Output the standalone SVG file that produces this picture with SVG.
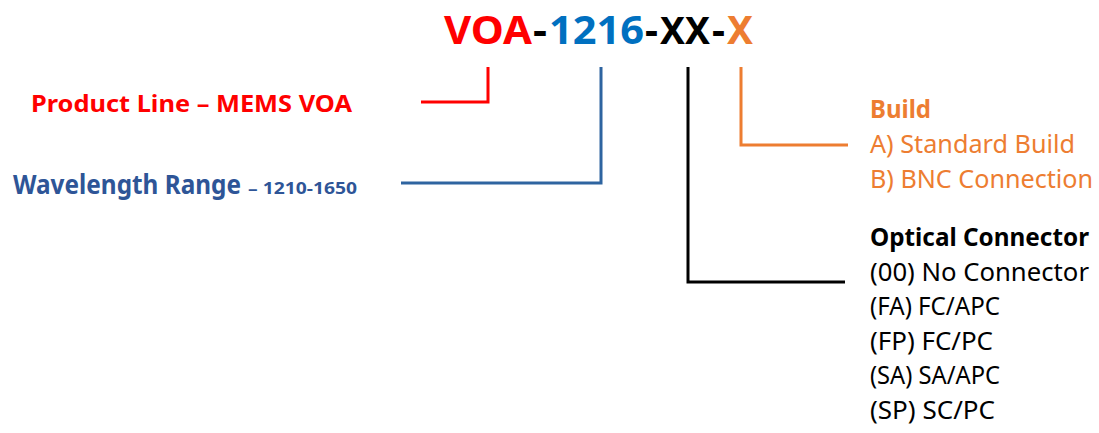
<svg xmlns="http://www.w3.org/2000/svg" width="1099" height="433" viewBox="0 0 1099 433">
<style>
text{font-family:"Noto Sans","Open Sans","Liberation Sans",sans-serif}
.b{font-weight:bold}
.t{font-size:40px;font-weight:bold}
.red{fill:#FF0000}
.blu{fill:#0070C0}
.nav{fill:#2E5597}
.org{fill:#ED7D31}
.blk{fill:#000000}
.ln{fill:none;stroke-width:3;stroke-linejoin:miter;stroke-linecap:butt}
</style>
<rect width="1099" height="433" fill="#FFFFFF"/>
<g id="title">
<text class="t red" x="444" y="44" textLength="88" lengthAdjust="spacingAndGlyphs">VOA</text>
<text class="t blk" x="533" y="44" textLength="14" lengthAdjust="spacingAndGlyphs">-</text>
<text class="t blu" x="549" y="44" textLength="95" lengthAdjust="spacingAndGlyphs">1216</text>
<text class="t blk" x="645" y="44" textLength="13" lengthAdjust="spacingAndGlyphs">-</text>
<text class="t blk" x="660" y="44" style="font-size:38px" textLength="50" lengthAdjust="spacingAndGlyphs">XX</text>
<text class="t blk" x="712" y="44" textLength="13" lengthAdjust="spacingAndGlyphs">-</text>
<text class="t org" x="727" y="44" textLength="26" lengthAdjust="spacingAndGlyphs">X</text>
</g>
<g id="product-line">
<text class="b red" x="31" y="112" font-size="24" textLength="321" lengthAdjust="spacingAndGlyphs">Product Line – MEMS VOA</text>
</g>
<g id="wavelength">
<text class="b nav" x="13" y="194" font-size="26" textLength="228" lengthAdjust="spacingAndGlyphs">Wavelength Range</text>
<text class="b nav" x="248" y="194" font-size="16" textLength="109" lengthAdjust="spacingAndGlyphs">– 1210-1650</text>
</g>
<g id="build">
<text class="b org" x="870" y="118" font-size="25" textLength="61" lengthAdjust="spacingAndGlyphs">Build</text>
<text class="org" x="870" y="153" font-size="25" textLength="205" lengthAdjust="spacingAndGlyphs">A) Standard Build</text>
<text class="org" x="870" y="188" font-size="25" textLength="223" lengthAdjust="spacingAndGlyphs">B) BNC Connection</text>
</g>
<g id="optical-connector">
<text class="b blk" x="870" y="246" font-size="25" textLength="219" lengthAdjust="spacingAndGlyphs">Optical Connector</text>
<text class="blk" x="870" y="280.5" font-size="25" textLength="219" lengthAdjust="spacingAndGlyphs">(00) No Connector</text>
<text class="blk" x="870" y="315" font-size="25" textLength="130" lengthAdjust="spacingAndGlyphs">(FA) FC/APC</text>
<text class="blk" x="870" y="349.5" font-size="25" textLength="123" lengthAdjust="spacingAndGlyphs">(FP) FC/PC</text>
<text class="blk" x="870" y="384" font-size="25" textLength="130" lengthAdjust="spacingAndGlyphs">(SA) SA/APC</text>
<text class="blk" x="870" y="418.5" font-size="25" textLength="125" lengthAdjust="spacingAndGlyphs">(SP) SC/PC</text>
</g>
<g id="connectors">
<polyline class="ln" stroke="#FF0000" points="488,67 488,102 421,102"/>
<polyline class="ln" stroke="#2E64A0" points="601,67 601,183 401,183"/>
<polyline class="ln" stroke="#000000" points="688,67 688,282 845,282"/>
<polyline class="ln" stroke="#ED7D31" points="741,67 741,145 848,145"/>
</g>
</svg>
